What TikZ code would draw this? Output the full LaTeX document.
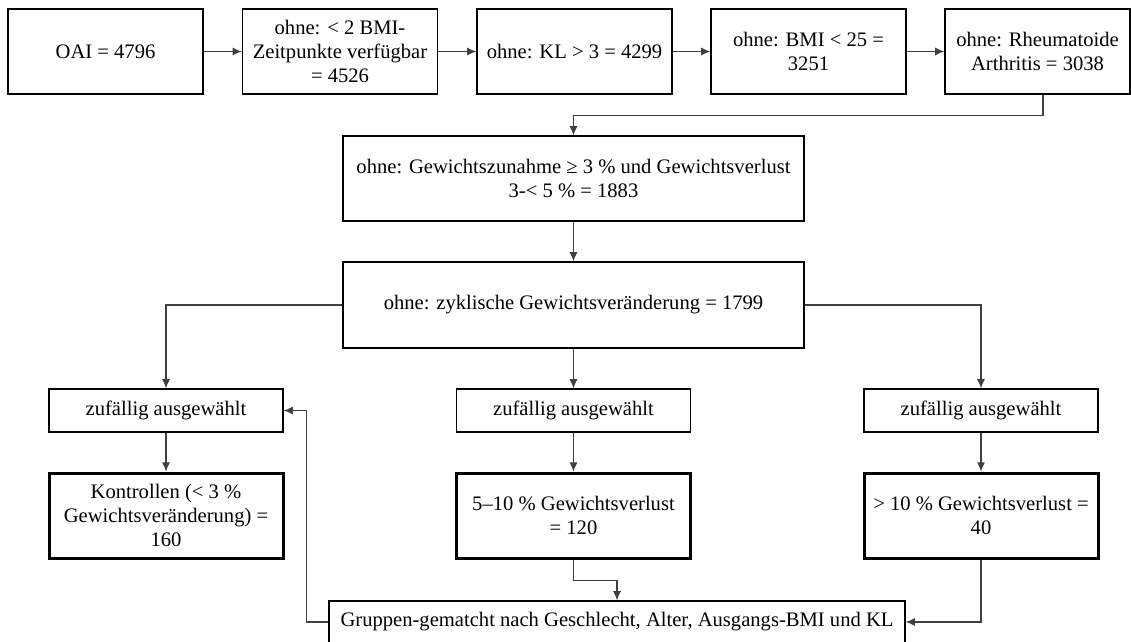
\documentclass[tikz,border=0pt]{standalone}
\usepackage{fontspec}
\setmainfont{Liberation Serif}
\usetikzlibrary{arrows.meta}
\begin{document}
\begin{tikzpicture}[x=0.5pt,y=-0.5pt,
  box/.style={draw=black,line width=0.7pt,inner sep=0pt,align=center,
    font=\fontsize{10.3}{11.8}\selectfont},
  thickbox/.style={box,line width=1.5pt},
  conn/.style={draw=black!75,line width=0.55pt,-{Latex[length=4.6pt,width=4pt]}}]
\useasboundingbox (0,0) rectangle (1131,642);
% top row
\node[box,minimum width=97.5pt,minimum height=42.5pt] (b1) at (105.5,51.5) {OAI = 4796};
\node[box,minimum width=97.5pt,minimum height=42.5pt] (b2) at (340,51.5) {ohne: < 2 BMI-\\Zeitpunkte verfügbar\\= 4526};
\node[box,minimum width=97.5pt,minimum height=42.5pt] (b3) at (574.5,51.5) {ohne: KL > 3 = 4299};
\node[box,minimum width=97.5pt,minimum height=42.5pt] (b4) at (808.5,51.5) {ohne: BMI < 25 =\\3251};
\node[box,minimum width=92.5pt,minimum height=42.5pt] (b5) at (1037.5,51.5) {ohne: Rheumatoide\\Arthritis = 3038};
% middle
\node[box,minimum width=230.5pt,minimum height=42.5pt] (b6) at (573.5,178.5) {ohne: Gewichtszunahme ≥ 3 \% und Gewichtsverlust\\3-< 5 \% = 1883};
\node[box,minimum width=230.5pt,minimum height=43pt] (b7) at (573.5,305) {ohne: zyklische Gewichtsveränderung = 1799};
% random selection
\node[box,minimum width=117pt,minimum height=21.5pt] (z1) at (166,410.5) {zufällig ausgewählt};
\node[box,minimum width=117pt,minimum height=21.5pt] (z2) at (573.5,410.5) {zufällig ausgewählt};
\node[box,minimum width=117pt,minimum height=21.5pt] (z3) at (981,410.5) {zufällig ausgewählt};
% results
\node[thickbox,minimum width=117pt,minimum height=42.5pt] (r1) at (166,515.5) {Kontrollen (< 3 \%\\Gewichtsveränderung) =\\160};
\node[thickbox,minimum width=117pt,minimum height=42.5pt] (r2) at (573.5,515.5) {5–10 \% Gewichtsverlust\\= 120};
\node[thickbox,minimum width=117pt,minimum height=42.5pt] (r3) at (981,515.5) {> 10 \% Gewichtsverlust =\\40};
% bottom
\node[box,minimum width=288pt,minimum height=21pt] (g) at (617,622) {Gruppen-gematcht nach Geschlecht, Alter, Ausgangs-BMI und KL};
% connectors
\draw[conn] (b1) -- (b2);
\draw[conn] (b2) -- (b3);
\draw[conn] (b3) -- (b4);
\draw[conn] (b4) -- (b5);
\draw[conn] ([xshift=2.75pt]b5.south) -- ++(0,21) -| (b6.north);
\draw[conn] (b6) -- (b7);
\draw[conn] (b7.west) -| (z1.north);
\draw[conn] (b7) -- (z2);
\draw[conn] (b7.east) -| (z3.north);
\draw[conn] (z1) -- (r1);
\draw[conn] (z2) -- (r2);
\draw[conn] (z3) -- (r3);
\draw[conn] (r2.south) -- ++(0,21) -| (g.north);
\draw[conn] (r3.south) |- (g.east);
\draw[conn] (g.west) -- ++(-22,0) |- (z1.east);
\end{tikzpicture}
\end{document}
